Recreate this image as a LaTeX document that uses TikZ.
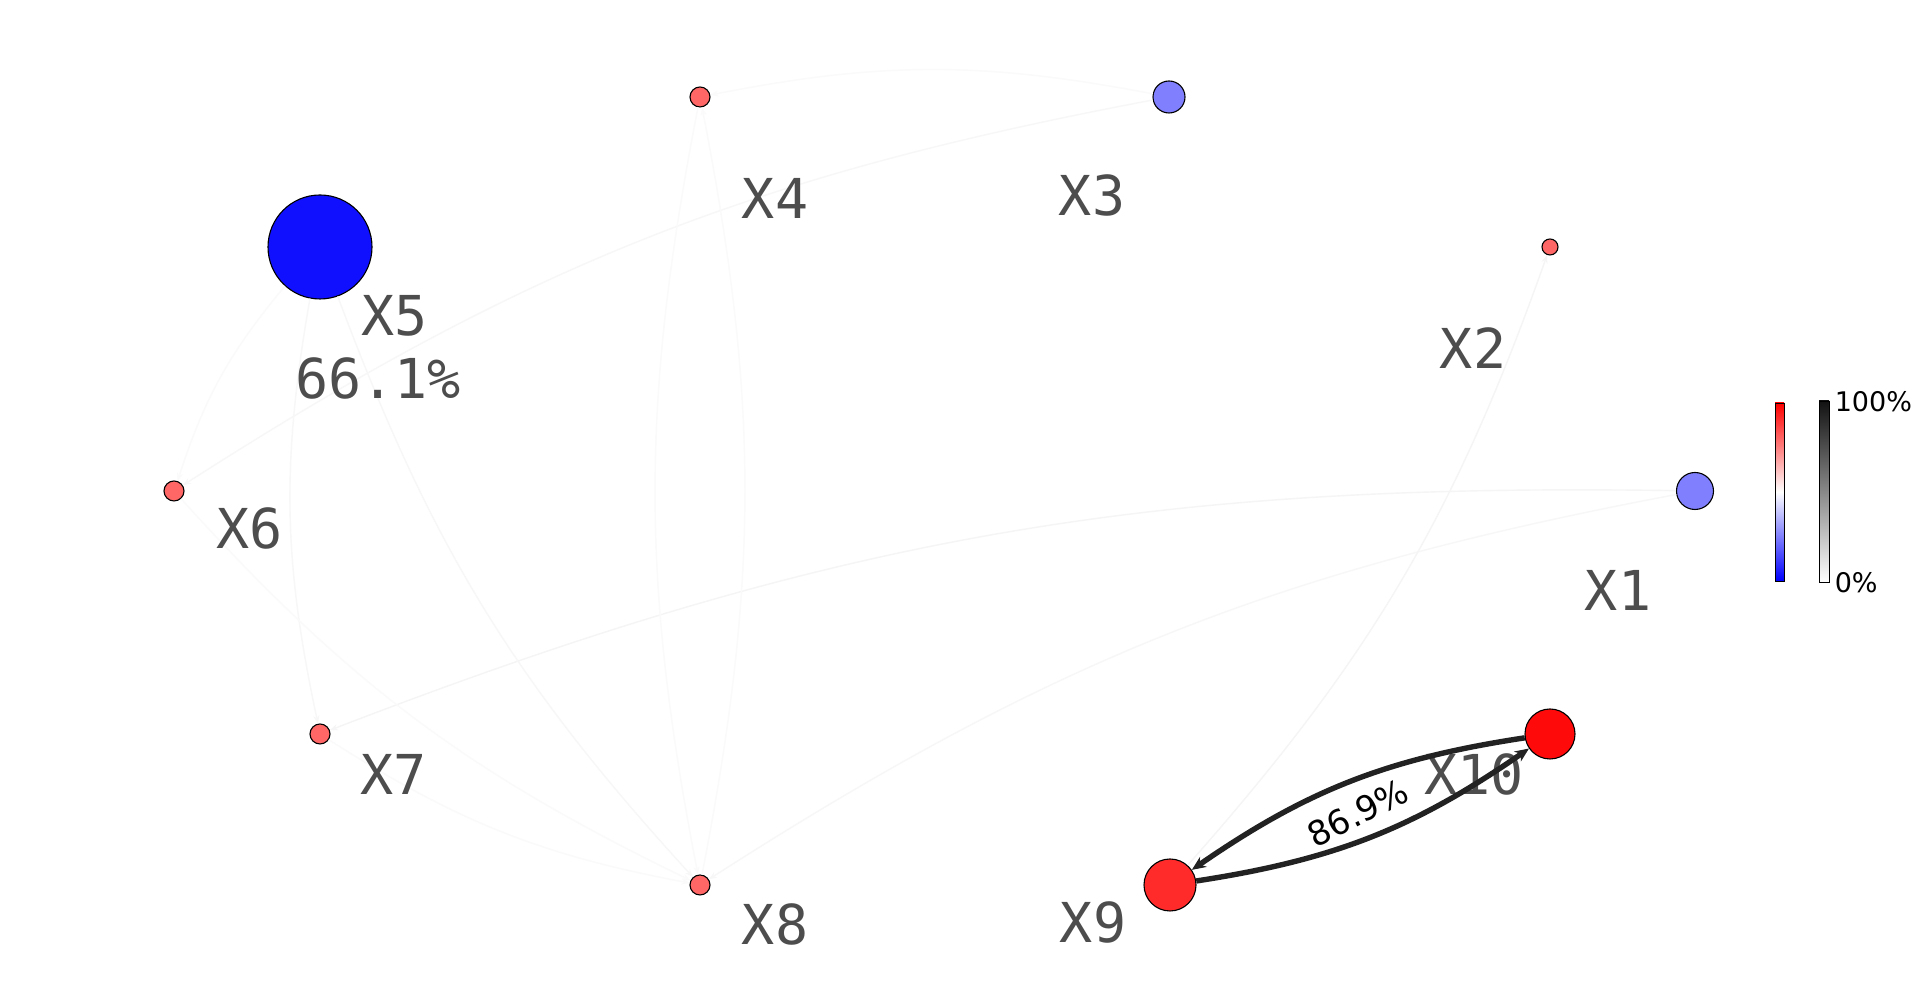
\documentclass[tikz,border=0pt]{standalone}
\usepackage{fontspec}
\setmainfont{DejaVu Sans}
\newfontfamily\labfont{DejaVu Sans Mono}
\usetikzlibrary{arrows.meta}
\definecolor{lblgray}{RGB}{77,77,77}
\definecolor{bluedeep}{RGB}{16,16,255}
\definecolor{bluelight}{RGB}{128,128,255}
\definecolor{redlight}{RGB}{255,102,102}
\definecolor{redten}{RGB}{255,10,10}
\definecolor{rednine}{RGB}{255,42,42}
\definecolor{edgedark}{RGB}{34,34,34}
\begin{document}
\begin{tikzpicture}[x=0.25pt,y=0.25pt,
 vnode/.style={circle,draw=black,line width=0.275pt,inner sep=0pt,minimum size=#1},
 vlabel/.style={text=lblgray,font=\labfont\fontsize{13.75}{15.5}\selectfont,inner sep=0pt},
 faint/.style={draw=black!#1,line width=0.35pt,-{Stealth[length=2pt,width=1.5pt]},bend right=11},
 strong/.style={draw=edgedark,line width=1.35pt,-{Stealth[length=3.5pt,width=3pt]},bend right=13},
 cbar/.style={draw=black,line width=0.225pt,inner sep=0pt,minimum width=#1},
 cblabel/.style={anchor=west,inner sep=0pt,font=\fontsize{6.75}{8}\selectfont}
]
\fill[white] (0,0) rectangle (1920,983);
\useasboundingbox (0,0) rectangle (1920,983);

% nodes
\node[vnode=26pt,fill=bluedeep] (X5) at (320,736) {};
\node[vnode=5pt,fill=redlight] (X4) at (700,886) {};
\node[vnode=8pt,fill=bluelight] (X3) at (1169,886) {};
\node[vnode=4pt,fill=redlight] (X2) at (1550,736) {};
\node[vnode=9.25pt,fill=bluelight] (X1) at (1695,492) {};
\node[vnode=12.5pt,fill=redten] (X10) at (1550,249) {};
\node[vnode=13pt,fill=rednine] (X9) at (1170,98) {};
\node[vnode=5pt,fill=redlight] (X8) at (700,98) {};
\node[vnode=5pt,fill=redlight] (X7) at (320,249) {};
\node[vnode=5pt,fill=redlight] (X6) at (174,492) {};

% faint edges
\draw[faint=4] (X1) to (X7);
\draw[faint=3] (X1) to (X8);
\draw[faint=4] (X9) to (X2);
\draw[faint=3] (X5) to (X8);
\draw[faint=3] (X5) to (X7);
\draw[faint=3] (X3) to (X6);
\draw[faint=2] (X3) to (X4);
\draw[faint=2] (X4) to (X8);
\draw[faint=2] (X8) to (X4);
\draw[faint=2] (X7) to (X8);
\draw[faint=2] (X6) to (X8);
\draw[faint=2] (X5) to (X6);

% labels
\node[vlabel] (LX4) at (775,785) {X4};
\node[vlabel] (LX3) at (1092,788) {X3};
\node[vlabel] (LX2) at (1473,635) {X2};
\node[vlabel] (LX1) at (1618,393) {X1};
\node[vlabel] (LX10) at (1474,209) {X10};
\node[vlabel] (LX9) at (1093,61) {X9};
\node[vlabel] (LX8) at (775,59) {X8};
\node[vlabel] (LX7) at (394,209) {X7};
\node[vlabel] (LX6) at (250,455) {X6};
\node[vlabel] (LX5) at (395,667) {X5};
\node[vlabel] (LX5p) at (378,605) {66.1\%};

% strong edges
\draw[strong] (X10) to (X9);
\draw[strong] (X9) to (X10);
\node[rotate=27,inner sep=0pt,font=\fontsize{8.5}{10}\selectfont] (E910) at (1358,170) {86.9\%};

% colour bars
\node[cbar=2.25pt,minimum height=44.5pt,top color=red,bottom color=blue,middle color=white] (CBR) at (1779.5,491) {};
\node[cbar=2.5pt,minimum height=45.25pt,top color=black!93,bottom color=white] (CBG) at (1824,491.5) {};
\node[cblabel] (C100) at (1834,581) {100\%};
\node[cblabel] (C0) at (1834,400) {0\%};
\end{tikzpicture}
\end{document}
